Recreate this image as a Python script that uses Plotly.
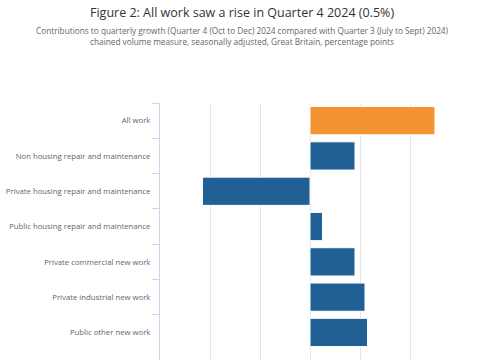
import plotly.graph_objects as go

categories = [
    "All work",
    "Non housing repair and maintenance",
    "Private housing repair and maintenance",
    "Public housing repair and maintenance",
    "Private commercial new work",
    "Private industrial new work",
    "Public other new work",
]
values = [0.50, 0.18, -0.43, 0.05, 0.18, 0.22, 0.23]
bar_colors = ["#f39431", "#206095", "#206095", "#206095", "#206095", "#206095", "#206095"]

title_text = "Figure 2: All work saw a rise in Quarter 4 2024 (0.5%)"
subtitle_text = ("Contributions to quarterly growth (Quarter 4 (Oct to Dec) 2024 compared with Quarter 3 (July to Sept) 2024)"
                 "<br>chained volume measure, seasonally adjusted, Great Britain, percentage points")

W, H = 485, 360
T, B = 103, 0
plot_h = H - T - B
band = 35.3

fig = go.Figure(go.Bar(
    x=values, y=categories, orientation="h",
    marker=dict(color=bar_colors, line=dict(color="#ffffff", width=1)),
    width=0.8,
))

def py(p):
    return (H - B - p) / plot_h

fig.update_layout(
    width=W, height=H,
    margin=dict(l=160, r=25, t=T, b=B),
    paper_bgcolor="white", plot_bgcolor="white",
    font=dict(family="Open Sans", color="#666666"),
    showlegend=False,
    xaxis=dict(
        range=[-0.6, 0.6], dtick=0.2, tick0=0,
        showgrid=True, gridcolor="#e6e6e6", gridwidth=1,
        zeroline=False, showticklabels=False, showline=False,
        fixedrange=True,
    ),
    yaxis=dict(
        type="category",
        range=[-0.5 + plot_h / band, -0.5],
        tickson="boundaries", ticks="outside", ticklen=7, tickcolor="#ccd6eb",
        showline=True, linecolor="#ccd6eb", linewidth=1,
        showgrid=False, zeroline=False,
        tickfont=dict(size=7.75, color="#666666", family="Open Sans"),
        ticklabelstandoff=7,
        fixedrange=True,
    ),
    annotations=[
        dict(text=title_text, xref="paper", yref="paper", x=(242 - 160) / 300, y=py(13),
             xanchor="center", yanchor="middle", showarrow=False,
             font=dict(size=12.5, color="#333333", family="Open Sans")),
        dict(text=subtitle_text, xref="paper", yref="paper", x=(242 - 160) / 300, y=py(36),
             xanchor="center", yanchor="middle", showarrow=False,
             font=dict(size=8.25, color="#666666", family="Open Sans")),
    ],
)

fig.write_html("out.html", config={"displayModeBar": False},
               post_script="document.body.style.margin='0';document.body.style.overflow='hidden';")
